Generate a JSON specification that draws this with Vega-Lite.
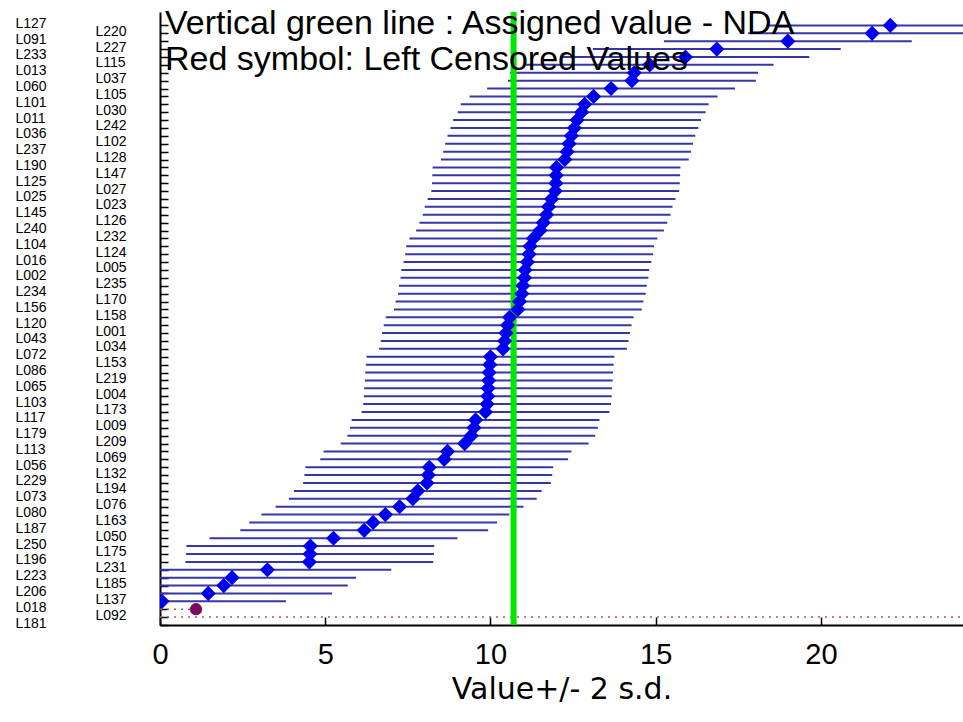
{
  "$schema": "https://vega.github.io/schema/vega-lite/v6.json",
  "autosize": {"type": "none"},
  "padding": {"left": 160, "top": 12, "right": 0, "bottom": 97},
  "width": 803,
  "height": 613,
  "background": "white",
  "config": {"view": {"stroke": null}},
  "title": {
    "text": ["Vertical green line : Assigned value -  NDA", "Red symbol: Left Censored Values"],
    "anchor": "start",
    "frame": "group",
    "orient": "top",
    "offset": -68,
    "dx": 5,
    "font": "Liberation Sans",
    "fontSize": 34,
    "fontWeight": "normal",
    "color": "black",
    "lineHeight": 36
  },
  "data": {
    "values": [
      {"lab": "L127", "kind": "ok", "value": 22.1, "lo": 18.35, "hi": 25.85},
      {"lab": "L220", "kind": "ok", "value": 21.55, "lo": 17.8, "hi": 25.3},
      {"lab": "L091", "kind": "ok", "value": 19.0, "lo": 15.25, "hi": 22.75},
      {"lab": "L227", "kind": "ok", "value": 16.85, "lo": 13.1, "hi": 20.6},
      {"lab": "L233", "kind": "ok", "value": 15.9, "lo": 12.15, "hi": 19.65},
      {"lab": "L115", "kind": "ok", "value": 14.82, "lo": 11.07, "hi": 18.57},
      {"lab": "L013", "kind": "ok", "value": 14.35, "lo": 10.6, "hi": 18.1},
      {"lab": "L037", "kind": "ok", "value": 14.28, "lo": 10.53, "hi": 18.03},
      {"lab": "L060", "kind": "ok", "value": 13.65, "lo": 9.9, "hi": 17.4},
      {"lab": "L105", "kind": "ok", "value": 13.12, "lo": 9.37, "hi": 16.87},
      {"lab": "L101", "kind": "ok", "value": 12.85, "lo": 9.1, "hi": 16.6},
      {"lab": "L030", "kind": "ok", "value": 12.76, "lo": 9.01, "hi": 16.51},
      {"lab": "L011", "kind": "ok", "value": 12.62, "lo": 8.87, "hi": 16.37},
      {"lab": "L242", "kind": "ok", "value": 12.54, "lo": 8.79, "hi": 16.29},
      {"lab": "L036", "kind": "ok", "value": 12.45, "lo": 8.7, "hi": 16.2},
      {"lab": "L102", "kind": "ok", "value": 12.38, "lo": 8.63, "hi": 16.13},
      {"lab": "L237", "kind": "ok", "value": 12.32, "lo": 8.57, "hi": 16.07},
      {"lab": "L128", "kind": "ok", "value": 12.25, "lo": 8.5, "hi": 16.0},
      {"lab": "L190", "kind": "ok", "value": 12.0, "lo": 8.25, "hi": 15.75},
      {"lab": "L147", "kind": "ok", "value": 11.99, "lo": 8.24, "hi": 15.74},
      {"lab": "L125", "kind": "ok", "value": 11.98, "lo": 8.23, "hi": 15.73},
      {"lab": "L027", "kind": "ok", "value": 11.96, "lo": 8.21, "hi": 15.71},
      {"lab": "L025", "kind": "ok", "value": 11.85, "lo": 8.1, "hi": 15.6},
      {"lab": "L023", "kind": "ok", "value": 11.76, "lo": 8.01, "hi": 15.51},
      {"lab": "L145", "kind": "ok", "value": 11.7, "lo": 7.95, "hi": 15.45},
      {"lab": "L126", "kind": "ok", "value": 11.6, "lo": 7.85, "hi": 15.35},
      {"lab": "L240", "kind": "ok", "value": 11.5, "lo": 7.75, "hi": 15.25},
      {"lab": "L232", "kind": "ok", "value": 11.3, "lo": 7.55, "hi": 15.05},
      {"lab": "L104", "kind": "ok", "value": 11.2, "lo": 7.45, "hi": 14.95},
      {"lab": "L124", "kind": "ok", "value": 11.17, "lo": 7.42, "hi": 14.92},
      {"lab": "L016", "kind": "ok", "value": 11.12, "lo": 7.37, "hi": 14.87},
      {"lab": "L005", "kind": "ok", "value": 11.05, "lo": 7.3, "hi": 14.8},
      {"lab": "L002", "kind": "ok", "value": 11.03, "lo": 7.28, "hi": 14.78},
      {"lab": "L235", "kind": "ok", "value": 10.98, "lo": 7.23, "hi": 14.73},
      {"lab": "L234", "kind": "ok", "value": 10.95, "lo": 7.2, "hi": 14.7},
      {"lab": "L170", "kind": "ok", "value": 10.88, "lo": 7.13, "hi": 14.63},
      {"lab": "L156", "kind": "ok", "value": 10.83, "lo": 7.08, "hi": 14.58},
      {"lab": "L158", "kind": "ok", "value": 10.58, "lo": 6.83, "hi": 14.33},
      {"lab": "L120", "kind": "ok", "value": 10.52, "lo": 6.77, "hi": 14.27},
      {"lab": "L001", "kind": "ok", "value": 10.47, "lo": 6.72, "hi": 14.22},
      {"lab": "L043", "kind": "ok", "value": 10.43, "lo": 6.68, "hi": 14.18},
      {"lab": "L034", "kind": "ok", "value": 10.38, "lo": 6.63, "hi": 14.13},
      {"lab": "L072", "kind": "ok", "value": 10.0, "lo": 6.25, "hi": 13.75},
      {"lab": "L153", "kind": "ok", "value": 9.98, "lo": 6.23, "hi": 13.73},
      {"lab": "L086", "kind": "ok", "value": 9.96, "lo": 6.21, "hi": 13.71},
      {"lab": "L219", "kind": "ok", "value": 9.95, "lo": 6.2, "hi": 13.7},
      {"lab": "L065", "kind": "ok", "value": 9.93, "lo": 6.18, "hi": 13.68},
      {"lab": "L004", "kind": "ok", "value": 9.92, "lo": 6.17, "hi": 13.67},
      {"lab": "L103", "kind": "ok", "value": 9.9, "lo": 6.15, "hi": 13.65},
      {"lab": "L173", "kind": "ok", "value": 9.85, "lo": 6.1, "hi": 13.6},
      {"lab": "L117", "kind": "ok", "value": 9.55, "lo": 5.8, "hi": 13.3},
      {"lab": "L009", "kind": "ok", "value": 9.5, "lo": 5.75, "hi": 13.25},
      {"lab": "L179", "kind": "ok", "value": 9.42, "lo": 5.67, "hi": 13.17},
      {"lab": "L209", "kind": "ok", "value": 9.22, "lo": 5.47, "hi": 12.97},
      {"lab": "L113", "kind": "ok", "value": 8.7, "lo": 4.95, "hi": 12.45},
      {"lab": "L069", "kind": "ok", "value": 8.6, "lo": 4.85, "hi": 12.35},
      {"lab": "L056", "kind": "ok", "value": 8.15, "lo": 4.4, "hi": 11.9},
      {"lab": "L132", "kind": "ok", "value": 8.12, "lo": 4.37, "hi": 11.87},
      {"lab": "L229", "kind": "ok", "value": 8.08, "lo": 4.33, "hi": 11.83},
      {"lab": "L194", "kind": "ok", "value": 7.8, "lo": 4.05, "hi": 11.55},
      {"lab": "L073", "kind": "ok", "value": 7.65, "lo": 3.9, "hi": 11.4},
      {"lab": "L076", "kind": "ok", "value": 7.25, "lo": 3.5, "hi": 11.0},
      {"lab": "L080", "kind": "ok", "value": 6.82, "lo": 3.07, "hi": 10.57},
      {"lab": "L163", "kind": "ok", "value": 6.45, "lo": 2.7, "hi": 10.2},
      {"lab": "L187", "kind": "ok", "value": 6.18, "lo": 2.43, "hi": 9.93},
      {"lab": "L050", "kind": "ok", "value": 5.25, "lo": 1.5, "hi": 9.0},
      {"lab": "L250", "kind": "ok", "value": 4.55, "lo": 0.8, "hi": 8.3},
      {"lab": "L175", "kind": "ok", "value": 4.54, "lo": 0.79, "hi": 8.29},
      {"lab": "L196", "kind": "ok", "value": 4.52, "lo": 0.77, "hi": 8.27},
      {"lab": "L231", "kind": "ok", "value": 3.25, "lo": -0.5, "hi": 7.0},
      {"lab": "L223", "kind": "ok", "value": 2.18, "lo": -1.57, "hi": 5.93},
      {"lab": "L185", "kind": "ok", "value": 1.93, "lo": -1.82, "hi": 5.68},
      {"lab": "L206", "kind": "ok", "value": 1.46, "lo": -2.29, "hi": 5.21},
      {"lab": "L137", "kind": "ok", "value": 0.06, "lo": -3.69, "hi": 3.81},
      {"lab": "L018", "kind": "cens", "value": 1.09, "lo": 0, "hi": 1.09},
      {"lab": "L092", "kind": "cens", "lo": 0, "hi": 25},
      {"lab": "L181", "kind": "none"}
    ]
  },
  "layer": [
    {
      "transform": [{"filter": "datum.kind == 'ok'"}],
      "mark": {"type": "rule", "color": "#3636a6", "strokeWidth": 2, "clip": true},
      "encoding": {
        "y": {
          "field": "lab",
          "type": "nominal",
          "scale": {
            "type": "point",
            "padding": 0.85,
            "align": 1,
            "domain": ["L127","L220","L091","L227","L233","L115","L013","L037","L060","L105","L101","L030","L011","L242","L036","L102","L237","L128","L190","L147","L125","L027","L025","L023","L145","L126","L240","L232","L104","L124","L016","L005","L002","L235","L234","L170","L156","L158","L120","L001","L043","L034","L072","L153","L086","L219","L065","L004","L103","L173","L117","L009","L179","L209","L113","L069","L056","L132","L229","L194","L073","L076","L080","L163","L187","L050","L250","L175","L196","L231","L223","L185","L206","L137","L018","L092","L181"]
          },
          "axis": {
            "title": null,
            "grid": false,
            "domainColor": "black",
            "domainWidth": 2,
            "tickColor": "black",
            "tickWidth": 1.5,
            "tickSize": -8,
            "labelFont": "Liberation Sans",
            "labelFontSize": 14,
            "labelColor": "black",
            "labelAlign": "left",
            "labelBaseline": "middle",
            "labelOffset": -2,
            "labelOverlap": false,
            "labelBound": false,
            "labelPadding": {"condition": {"test": "round(datum.index * 76) % 2 == 1", "value": 73}, "value": 153}
          }
        },
        "x": {
          "field": "lo",
          "type": "quantitative",
          "scale": {"domain": [0, 24.3], "nice": false, "zero": false},
          "axis": {
            "title": "Value+/- 2 s.d.",
            "values": [0, 5, 10, 15, 20],
            "grid": false,
            "domainColor": "black",
            "domainWidth": 2,
            "tickColor": "black",
            "tickWidth": 1.5,
            "tickSize": -8,
            "labelFlush": false,
            "labelFont": "Liberation Sans",
            "labelFontSize": 29,
            "labelColor": "black",
            "labelPadding": 23,
            "titleFont": "DejaVu Sans",
            "titleFontSize": 30,
            "titleFontWeight": "normal",
            "titleColor": "black",
            "titlePadding": 5
          }
        },
        "x2": {"field": "hi"}
      }
    },
    {
      "transform": [{"filter": "datum.kind == 'cens'"}],
      "mark": {"type": "rule", "color": "#b45a5a", "strokeWidth": 1.5, "strokeDash": [2, 5], "clip": true},
      "encoding": {
        "y": {"field": "lab", "type": "nominal"},
        "x": {"field": "lo", "type": "quantitative"},
        "x2": {"field": "hi"}
      }
    },
    {
      "data": {"values": [{"assigned": 10.7}]},
      "mark": {"type": "rule", "color": "#00e600", "strokeWidth": 6},
      "encoding": {
        "x": {"field": "assigned", "type": "quantitative"}
      }
    },
    {
      "transform": [{"filter": "datum.kind == 'ok'"}],
      "mark": {"type": "point", "shape": "diamond", "filled": true, "color": "#0000ee", "opacity": 1, "size": 230, "clip": true},
      "encoding": {
        "y": {"field": "lab", "type": "nominal"},
        "x": {"field": "value", "type": "quantitative"}
      }
    },
    {
      "transform": [{"filter": "datum.kind == 'cens' && isValid(datum.value)"}],
      "mark": {"type": "point", "shape": "circle", "filled": true, "color": "#7d0a5e", "opacity": 1, "size": 150},
      "encoding": {
        "y": {"field": "lab", "type": "nominal"},
        "x": {"field": "value", "type": "quantitative"}
      }
    }
  ]
}
